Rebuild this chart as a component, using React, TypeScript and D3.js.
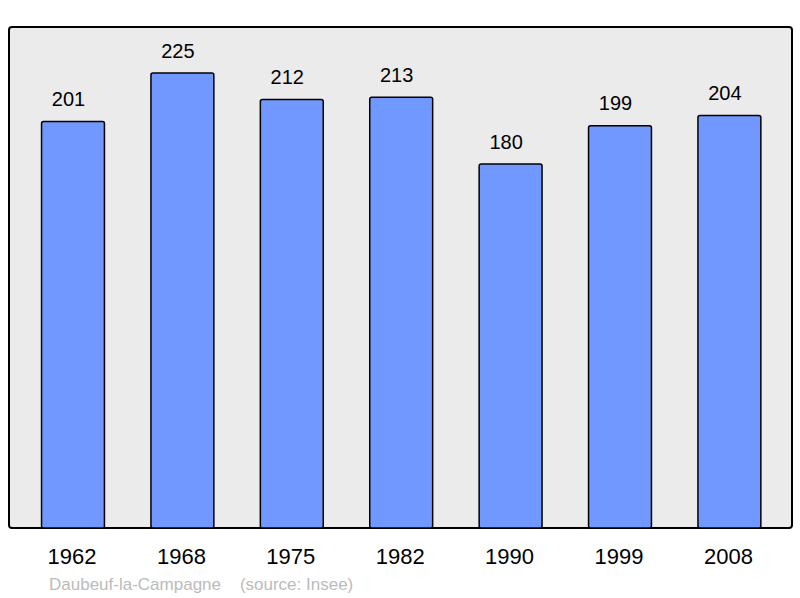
import React from "react";
import * as d3 from "d3";

const years = ["1962", "1968", "1975", "1982", "1990", "1999", "2008"];
const populations = [201, 225, 212, 213, 180, 199, 204];
const title = "Daubeuf-la-Campagne";
const source = "(source: Insee)";

export default function App() {
  const W = 800, H = 598;
  const frame = { x0: 9, x1: 792, y0: 27, y1: 528 };
  const x = d3.scaleBand<string>().domain(years).range([18.3, 784.1]).padding(0);
  const y = d3.scaleLinear().domain([0, 247.8]).range([frame.y1, frame.y0]);
  const bw = x.step() * 0.575;
  const font = "'Liberation Sans', Arial, sans-serif";
  return (
    <svg width={W} height={H} style={{ position: "absolute", left: 0, top: 0 }}>
      <rect x={0} y={0} width={W} height={H} fill="#fff" />
      <rect x={frame.x0} y={frame.y0} width={frame.x1 - frame.x0} height={frame.y1 - frame.y0}
        fill="#ebebeb" stroke="#000" strokeWidth={2} rx={3} />
      {years.map((yr, i) => {
        const cx = (x(yr) as number) + x.step() / 2;
        const v = populations[i];
        return (
          <g key={yr}>
            <rect x={cx - bw / 2} y={y(v)} width={bw} height={y(0) - y(v)}
              fill="#7098ff" stroke="#000" strokeWidth={1.5} rx={2} />
            <text x={cx - 4.5} y={y(v) - 15.5} textAnchor="middle" fontFamily={font} fontSize={20} fill="#000">{v}</text>
            <text x={cx - 1} y={564} textAnchor="middle" fontFamily={font} fontSize={22} fill="#000">{yr}</text>
          </g>
        );
      })}
      <text x={49} y={590} fontFamily={font} fontSize={17} fill="#bbbbbb" style={{ whiteSpace: "pre" }}>
        {title + "    " + source}
      </text>
    </svg>
  );
}
